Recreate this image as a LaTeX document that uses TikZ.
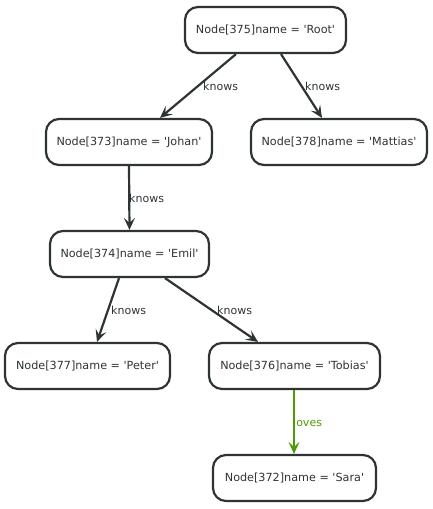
\documentclass[tikz,border=0pt]{standalone}
\usepackage{fontspec}
\setmainfont{DejaVu Sans}
\usetikzlibrary{arrows.meta}
\definecolor{ink}{HTML}{2E3436}
\definecolor{lovegreen}{HTML}{4E9A06}
\newcommand{\q}{\textquotesingle}
\tikzset{
  graphnode/.style={draw=ink, line width=2.2pt, rounded corners=13pt, fill=white,
    minimum height=46pt, inner sep=0pt, text=ink, font=\fontsize{11.2}{12}\selectfont},
  rel/.style={draw=ink, line width=2.2pt, -{Stealth[length=12pt,width=11pt,inset=5pt]}},
  lovesrel/.style={draw=lovegreen, line width=2.2pt, -{Stealth[length=12pt,width=11pt,inset=5pt]}},
  rellabel/.style={text=ink, font=\fontsize{11}{12}\selectfont, inner sep=0pt},
  loveslabel/.style={text=lovegreen, font=\fontsize{11}{12}\selectfont, inner sep=0pt}
}
\begin{document}
\begin{tikzpicture}[x=1pt, y=-1pt]
  \useasboundingbox (0,0) rectangle (432,509);

  \node[graphnode, minimum width=161pt] (root)    at (265.5,30)  {Node[375]name = \q Root\q};
  \node[graphnode, minimum width=166pt] (johan)   at (129,142)   {Node[373]name = \q Johan\q};
  \node[graphnode, minimum width=176pt] (mattias) at (339,142)   {Node[378]name = \q Mattias\q};
  \node[graphnode, minimum width=159pt] (emil)    at (129.5,254) {Node[374]name = \q Emil\q};
  \node[graphnode, minimum width=165pt] (peter)   at (87.5,366)  {Node[377]name = \q Peter\q};
  \node[graphnode, minimum width=171pt] (tobias)  at (294.5,366) {Node[376]name = \q Tobias\q};
  \node[graphnode, minimum width=163pt] (sara)    at (294.5,478) {Node[372]name = \q Sara\q};

  \draw[rel] (root.south -| 236,0) -- (johan.north -| 160,0);
  \draw[rel] (root.south -| 281,0) -- (mattias.north -| 322,0);
  \draw[rel] (johan.south) -- (emil.north);
  \draw[rel] (emil.south -| 119,0) -- (peter.north -| 97,0);
  \draw[rel] (emil.south -| 165,0) -- (tobias.north -| 258,0);
  \draw[lovesrel] (tobias.south -| 294,0) -- (sara.north -| 294,0);

  \node[rellabel, anchor=west] (l1) at (203,86)  {knows};
  \node[rellabel, anchor=west] (l2) at (305,86)  {knows};
  \node[rellabel, anchor=west] (l3) at (129,198) {knows};
  \node[rellabel, anchor=west] (l4) at (111,310) {knows};
  \node[rellabel, anchor=west] (l5) at (217,310) {knows};
  \node[loveslabel, anchor=west] (l6) at (293,422) {loves};
\end{tikzpicture}
\end{document}
